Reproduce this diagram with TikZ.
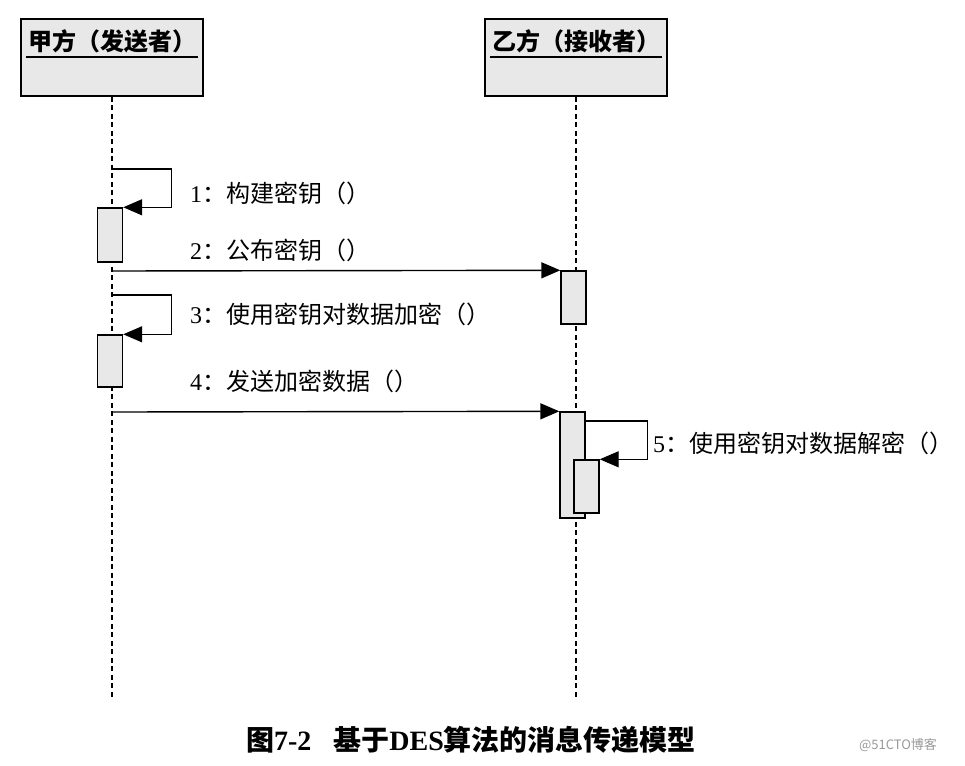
\documentclass[tikz,border=0pt]{standalone}
\usepackage{fontspec}
\setmainfont{Liberation Serif}
\newfontfamily\cjk{Noto Sans CJK SC}
\usetikzlibrary{arrows.meta,positioning}

\begin{document}
\begin{tikzpicture}[x=1pt, y=-1pt,
	actor/.style={draw, line width=1.8pt, fill=black!9, minimum width=182pt, minimum height=77pt, inner sep=0pt},
	act/.style={draw, line width=1.4pt, fill=black!9, minimum width=25pt, inner sep=0pt},
	life/.style={line width=1.6pt, dash pattern=on 5pt off 3.5pt},
	msg/.style={line width=1.4pt, -{Triangle[length=19pt,width=16pt]}},
	title/.style={font=\cjk\bfseries\fontsize{24}{26}\selectfont, inner xsep=2pt, inner ysep=4pt},
	lbl/.style={anchor=west, inner sep=0pt, font=\fontsize{24}{26}\selectfont}]
	\useasboundingbox (0,0) rectangle (965,765);
	
	\draw (112,57.5) node[actor] (A) {};
	\draw (576,57.5) node[actor] (B) {};
	\draw (112,41) node[title] (At) {甲方（发送者）};
	\draw (576,41) node[title] (Bt) {乙方（接收者）};
	\draw[line width=1.8pt] (At.south west) -- (At.south east);
	\draw[line width=1.8pt] (Bt.south west) -- (Bt.south east);
	
	\coordinate (Aend) at (112,700);
	\coordinate (Bend) at (576,700);
	\draw[life] (A.south) -- (Aend);
	\draw[life] (B.south) -- (Bend);
	
	\draw (110,235) node[act, minimum height=54pt] (a1) {};
	\draw (110,361) node[act, minimum height=52pt] (a2) {};
	\draw (573.5,297.5) node[act, minimum height=53pt] (b1) {};
	\draw (572.5,465) node[act, minimum height=106pt] (b2) {};
	\draw (586.5,486.5) node[act, minimum height=53pt] (b3) {};
	
	\coordinate (s1) at (112,169);
	\coordinate (m2) at (112,271);
	\coordinate (s3) at (112,295);
	\coordinate (m4) at (112,412);
	\coordinate (s5) at (584.5,421);
	
	\draw[msg] (s1) -| ([xshift=48pt]a1.north east) -- (a1.north east);
	\draw[msg] (m2) -- (b1.north west);
	\draw[msg] (s3) -| ([xshift=48pt]a2.north east) -- (a2.north east);
	\draw[msg] (m4) -- (b2.north west);
	\draw[msg] (s5) -| ([xshift=48pt]b3.north east) -- (b3.north east);
	
	\draw (190,193) node[lbl] (l1) {1{\cjk ：构建密钥（）}};
	\draw (190,250) node[lbl] (l2) {2{\cjk ：公布密钥（）}};
	\draw (190,314) node[lbl] (l3) {3{\cjk ：使用密钥对数据加密（）}};
	\draw (190,381) node[lbl] (l4) {4{\cjk ：发送加密数据（）}};
	\draw (653,443) node[lbl] (l5) {5{\cjk ：使用密钥对数据解密（）}};
	
	\draw (471,740) node[font=\bfseries\fontsize{28}{30}\selectfont] (cap) {{\cjk 图}7-2\hspace{22pt}{\cjk 基于}DES{\cjk 算法的消息传递模型}};
	\draw (898,745) node[font=\cjk\fontsize{13}{15}\selectfont, text=black!40] (wm) {@51CTO博客};
\end{tikzpicture}
\end{document}
